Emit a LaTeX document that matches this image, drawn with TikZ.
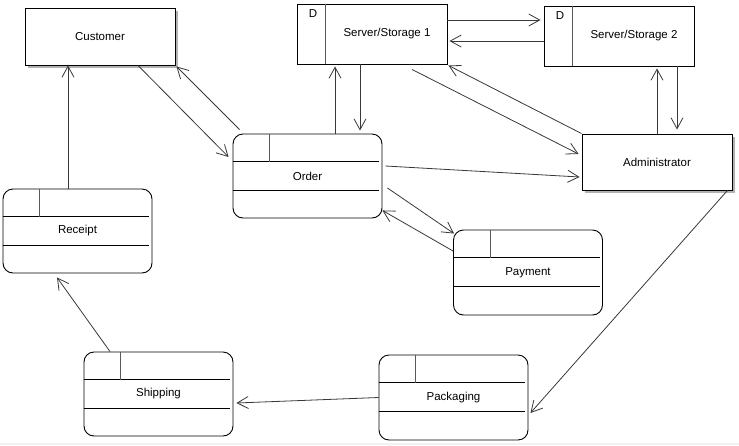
\documentclass[tikz,border=0pt]{standalone}
\usepackage{fontspec}
\setmainfont{Liberation Sans}
\usetikzlibrary{arrows.meta}
\begin{document}
\begin{tikzpicture}[x=1pt,y=-1pt,
  font=\fontsize{11.5}{13}\selectfont,
  every node/.style={inner sep=0pt},
  entity/.style={draw, line width=0.9pt, fill=white, minimum width=150pt, minimum height=57pt},
  store/.style={draw, line width=0.9pt, fill=white, minimum width=150pt, minimum height=60pt},
  state/.style={draw, line width=0.9pt, fill=white, rounded corners=10pt,
                minimum width=149pt, minimum height=84pt},
  part/.style={line width=0.9pt},
  divider/.style={line width=0.9pt, black!65},
  boxshadow/.style={fill=black!30},
  arr/.style={draw=black!78, line width=0.8pt, -{Straight Barb[length=11pt,width=12pt]}}
]
\useasboundingbox (0,0) rectangle (739,445);
\fill[black!5] (0,443) rectangle (739,445);

% compartment lines inside a rounded state box
\newcommand\compartments[1]{%
  \draw[part] ([yshift=-28pt]#1.north west) -- ([shift={(-3pt,-28pt)}]#1.north east);
  \draw[part] ([yshift=-57pt]#1.north west) -- ([shift={(-3pt,-57pt)}]#1.north east);
  \draw[divider] ([xshift=37pt]#1.north west) -- ([shift={(37pt,-28pt)}]#1.north west);
}
% L-shaped drop shadow along the right and bottom edges of a box
\newcommand\edgeshadow[1]{%
  \fill[boxshadow] ([shift={(3pt,-0.45pt)}]#1.south west) rectangle ([shift={(3pt,-3pt)}]#1.south east);
  \fill[boxshadow] ([shift={(0.45pt,-3pt)}]#1.north east) rectangle ([shift={(3pt,-3pt)}]#1.south east);
}

% rectangular entities
\node[entity] (customer) at (100,36.5) {Customer};
\edgeshadow{customer}
\node[entity, minimum height=56pt] (admin) at (657,162) {Administrator};
\edgeshadow{admin}

% data stores
\node[store] (s1) at (372,34) {};
\draw[divider] ([xshift=29pt]s1.north west) -- ([xshift=29pt]s1.south west);
\node (s1d) at (313,14) {D};
\node (s1text) at ([xshift=15pt]s1.center) {Server/Storage 1};

\node[store] (s2) at (619,36) {};
\draw[divider] ([xshift=29pt]s2.north west) -- ([xshift=29pt]s2.south west);
\node (s2d) at (560,16) {D};
\node (s2text) at ([xshift=15pt]s2.center) {Server/Storage 2};

% process states
\node[state] (order) at (307.5,176) {Order};
\compartments{order}
\node[state] (receipt) at (77.5,231) {Receipt};
\compartments{receipt}
\node[state, minimum height=85pt] (payment) at (528,272.5) {Payment};
\compartments{payment}
\node[state, minimum height=85pt] (packaging) at (453.5,397.5) {Packaging};
\compartments{packaging}
\node[state] (shipping) at (158.5,394) {Shipping};
\compartments{shipping}

% flows
\draw[arr] ([xshift=38pt]customer.south) -- ([shift={(-4pt,19pt)}]order.west);
\draw[arr] ([shift={(7pt,4pt)}]order.north west) -- ([shift={(1pt,-1pt)}]customer.south east);
\draw[arr] ([xshift=-9.5pt]receipt.north) -- ([xshift=-32pt]customer.south);
\draw[arr] ([xshift=-48.5pt]shipping.north) -- ([shift={(-20.5pt,-4pt)}]receipt.south);
\draw[arr] (packaging.west) -- ([shift={(3pt,-9pt)}]shipping.east);
\draw[arr] ([xshift=-5pt]admin.south east) -- ([shift={(2pt,-15.5pt)}]packaging.east);
\draw[arr] ([shift={(5pt,-12pt)}]order.east) -- ([shift={(1pt,-4pt)}]payment.north west);
\draw[arr] ([yshift=21.5pt]payment.west) -- ([yshift=8pt]order.south east);
\draw[arr] ([shift={(3pt,10pt)}]order.east) -- ([shift={(-2pt,-15pt)}]admin.west);
\draw[arr] ([shift={(40pt,-5pt)}]s1.south) -- ([shift={(-3pt,8pt)}]admin.west);
\draw[arr] (admin.north west) -- ([shift={(1pt,-1pt)}]s1.south east);
\draw[arr] ([xshift=27.5pt]order.north) -- ([shift={(-37pt,-2pt)}]s1.south);
\draw[arr] ([xshift=-12pt]s1.south) -- ([shift={(-12pt,3pt)}]order.north -| s1.south);
\draw[arr] ([yshift=14pt]s1.east) -- ([shift={(-3pt,16pt)}]s2.west);
\draw[arr] ([yshift=-5pt]s2.west) -- ([shift={(2pt,-7pt)}]s1.east);
\draw[arr] (admin.north) -- ([shift={(38pt,-2pt)}]s2.south);
\draw[arr] ([xshift=58pt]s2.south) -- ([shift={(20pt,4pt)}]admin.north);
\end{tikzpicture}
\end{document}
